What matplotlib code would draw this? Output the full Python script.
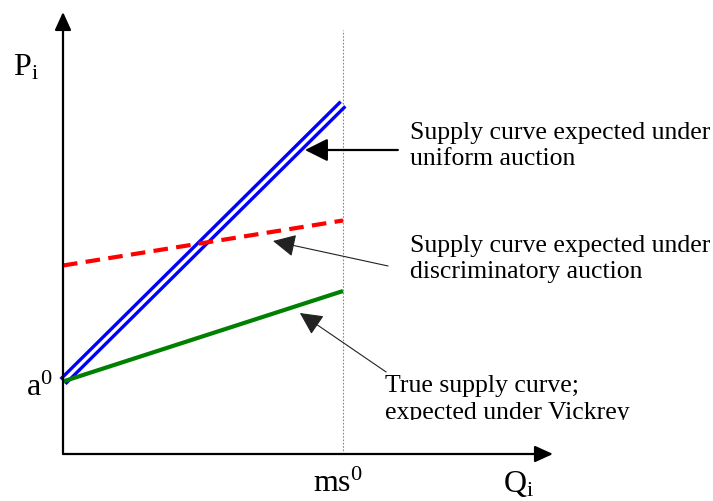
import matplotlib
matplotlib.use("Agg")
import matplotlib.pyplot as plt
from matplotlib.transforms import Bbox, TransformedBbox

plt.rcParams['font.family'] = ['Liberation Serif', 'DejaVu Serif']
plt.rcParams['mathtext.fontset'] = 'custom'
plt.rcParams['mathtext.rm'] = 'Liberation Serif'
plt.rcParams['mathtext.it'] = 'Liberation Serif:italic'

# ---- data (Q = quantity, ms0 = 1 ; P = price) ----
q_line = [0.0, 1.0]
a0 = 0.725
uniform_p = [a0, 3.50]
discrim_p = [1.885, 2.335]
true_p = [a0, 1.63]
ms0 = 1.0
q_max = 1.75
p_max = 4.42
ms0_line_top = 4.24

labels_uniform = ["Supply curve expected under", "uniform auction"]
labels_discrim = ["Supply curve expected under", "discriminatory auction"]
labels_true = ["True supply curve;", "expected under Vickrey"]

W, H = 713, 501
fig = plt.figure(figsize=(W / 100, H / 100), dpi=100)
ax = fig.add_axes([63 / W, 47 / H, (553 - 63) / W, (454 - 12) / H])
ax.set_xlim(0, q_max)
ax.set_ylim(0, p_max)
ax.axis('off')

fs = 18.5
lfs = 23

# axes with arrows
arrow_style = '-|>,head_length=0.55,head_width=0.25'
ax.annotate('', xy=(q_max, 0), xytext=(0, 0),
            arrowprops=dict(arrowstyle=arrow_style, lw=1.6, color='black',
                            mutation_scale=20, shrinkA=0, shrinkB=0),
            annotation_clip=False)
ax.annotate('', xy=(0, p_max), xytext=(0, 0),
            arrowprops=dict(arrowstyle=arrow_style, lw=1.6, color='black',
                            mutation_scale=20, shrinkA=0, shrinkB=0),
            annotation_clip=False)

# ms0 dotted vertical
ax.plot([ms0, ms0], [0, ms0_line_top], color='#888888', lw=0.8,
        linestyle=(0, (1.5, 1.5)), clip_on=False)

# curves
ax.plot(q_line, uniform_p, color='#0000ff', lw=7.2, solid_capstyle='butt', clip_on=False)
ax.plot(q_line, uniform_p, color='white', lw=2.4, solid_capstyle='butt', clip_on=False)
ax.plot(q_line, discrim_p, color='#ff0000', lw=3, dashes=(3.5, 2), clip_on=False)
ax.plot(q_line, true_p, color='#008000', lw=3, solid_capstyle='butt', clip_on=False)

# pointer arrows
head = '-|>,head_length=0.7,head_width=0.35'
ax.annotate('', xy=(0.864, 3.04), xytext=(1.196, 3.04),
            arrowprops=dict(arrowstyle=head, lw=1.6, color='black',
                            mutation_scale=20, shrinkA=0, shrinkB=0))
ax.annotate('', xy=(0.75, 2.13), xytext=(1.161, 1.88),
            arrowprops=dict(arrowstyle=head, lw=0.8, color='#222222',
                            mutation_scale=20, shrinkA=0, shrinkB=0))
ax.annotate('', xy=(0.846, 1.41), xytext=(1.154, 0.82),
            arrowprops=dict(arrowstyle=head, lw=0.8, color='#222222',
                            mutation_scale=20, shrinkA=0, shrinkB=0))

# text labels
tx = 1.239
ax.text(tx, 3.147, labels_uniform[0], fontsize=fs, va='baseline', ha='left', clip_on=False)
ax.text(tx, 2.89, labels_uniform[1], fontsize=fs, va='baseline', ha='left', clip_on=False)
ax.text(tx, 2.023, labels_discrim[0], fontsize=fs, va='baseline', ha='left', clip_on=False)
ax.text(tx, 1.76, labels_discrim[1], fontsize=fs, va='baseline', ha='left', clip_on=False)
tx2 = (385 - 63) / 280
ax.text(tx2, 0.623, labels_true[0], fontsize=fs, va='baseline', ha='left', clip_on=False)
t = ax.text(tx2, 0.35, labels_true[1], fontsize=fs, va='baseline', ha='left')
t.set_clip_box(TransformedBbox(Bbox([[0.5, 0.34], [3.0, 1.0]]), ax.transData))
t.set_clip_on(True)

ax.text(-0.18, 3.79, r'$\mathrm{P}_{\mathrm{i}}$', fontsize=lfs, va='baseline', ha='left', clip_on=False)
ax.text(-0.035, 0.58, r'$\mathrm{a}^{0}$', fontsize=lfs, va='baseline', ha='right', clip_on=False)
ax.text(0.893, -0.38, r'$\mathrm{ms}^{0}$', fontsize=lfs, va='baseline', ha='left', clip_on=False)
ax.text(1.571, -0.38, r'$\mathrm{Q}_{\mathrm{i}}$', fontsize=lfs, va='baseline', ha='left', clip_on=False)

fig.savefig('out.png', dpi=100, facecolor='white')
